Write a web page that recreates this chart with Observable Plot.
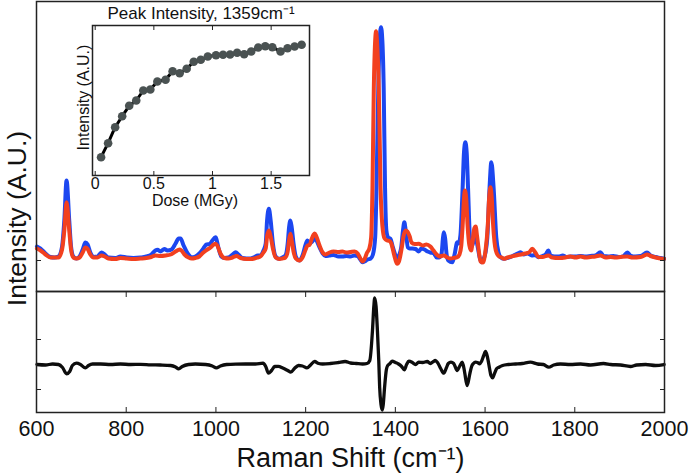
<!DOCTYPE html>
<html><head><meta charset="utf-8">
<script src="https://cdn.jsdelivr.net/npm/d3@7"></script>
<script src="https://cdn.jsdelivr.net/npm/@observablehq/plot@0.6"></script>
<style>
html,body{margin:0;padding:0;background:#fff;}
#chart{position:relative;width:692px;height:475px;overflow:hidden;background:#fff;}
#chart svg{position:absolute;left:0;overflow:visible;background:transparent;}
</style></head><body><div id="chart"></div>
<script>
// Raman shift (cm-1) vs intensity (A.U.), before irradiation (blue) and after (red)
const blueSpectrum = [[601,14],[609,12],[620,7],[631,3.5],[640,3],[649,4],[657,14],[662,40],[667,80],[673,40],[677,14],[682,4],[689,2],[696,4],[703,11],[709,18],[714,16],[720,8],[727,3.5],[736,4],[745,8],[752,6],[760,3],[776,2.5],[787,4],[801,3],[816,2.5],[832,3],[845,4],[856,6],[865,10],[870,10.7],[876,9],[885,11.5],[892,10],[901,11],[910,17],[917,22],[921,22],[928,15],[937,7],[946,3.3],[954,4],[963,7],[972,12],[979,16],[986,16.5],[992,20],[999,23.3],[1006,12],[1012,4],[1019,2.5],[1028,3],[1037,6],[1044,8.3],[1050,6],[1059,2.5],[1068,2],[1077,2],[1086,3.5],[1093,5],[1099,5],[1106,10],[1111,17],[1114,40],[1118,51.7],[1122,40],[1127,17],[1133,4],[1140,1.7],[1148,3],[1155,5],[1160,17],[1163,33],[1166,40],[1169,33],[1173,17],[1178,4],[1186,0],[1193,5],[1200,16],[1204,20],[1209,17],[1215,19],[1220,22],[1224,20],[1231,13],[1238,7],[1244,4.5],[1253,5],[1262,5.5],[1273,4],[1282,4],[1291,4.5],[1300,4],[1309,5],[1316,4.5],[1322,1],[1327,-1.7],[1331,-1],[1338,1],[1345,2],[1350,6],[1355,23],[1358,73],[1362,173],[1365,220],[1368,233.3],[1371,220],[1374,173],[1377,73],[1380,30],[1384,23],[1389,21.7],[1394,14],[1398,8],[1404,2],[1409,6],[1413,13],[1417,30],[1420,38.3],[1423,30],[1428,13],[1432,12],[1438,12],[1445,11.5],[1452,9],[1458,12],[1465,11],[1472,9],[1478,8],[1485,7.5],[1492,3],[1498,3],[1503,7],[1506,22],[1508,28.3],[1511,22],[1514,7],[1518,0],[1527,-1.7],[1532,6],[1538,18.3],[1541,17],[1545,25],[1550,73],[1553,108],[1556,118.3],[1559,108],[1562,73],[1566,25],[1570,14],[1575,20],[1579,23.3],[1583,15],[1588,3],[1592,-1.7],[1597,2],[1601,8],[1605,23],[1610,73],[1614,98.3],[1619,73],[1625,23],[1630,8],[1634,3.5],[1642,1.7],[1650,2.5],[1659,4],[1668,6],[1675,7.5],[1679,8.3],[1686,6],[1695,7],[1704,5],[1712,5.5],[1719,3.3],[1728,4.5],[1735,6],[1741,10],[1746,5],[1755,4],[1764,4],[1773,5],[1782,3.5],[1790,4],[1802,4],[1813,4.5],[1824,4],[1835,4.5],[1846,5],[1857,8.3],[1864,4.5],[1875,4],[1886,4.5],[1898,3.5],[1909,4.5],[1917,8],[1924,5],[1935,4],[1947,4.5],[1961,8],[1969,5],[1980,3.5],[1991,2.5],[1999,1.7]];

const redSpectrum = [[601,12],[609,10],[620,6],[631,3],[640,3],[649,3],[657,11],[662,30],[667,58.3],[673,30],[677,11],[682,3],[689,2],[696,3],[703,8],[709,13],[714,11.5],[720,6],[727,3],[736,3],[745,5],[752,4],[760,2],[776,1.5],[787,2.5],[801,2],[816,1.5],[832,2],[845,2.5],[856,3.5],[865,5],[876,4.5],[888,5],[899,6],[910,9],[919,11],[923,10],[930,6],[939,3],[946,2],[954,2.5],[963,4],[972,8],[981,11],[988,13],[995,16],[999,16.7],[1003,15],[1010,7],[1019,2.5],[1028,2],[1037,3],[1046,4.5],[1055,2.5],[1068,1.5],[1077,1.5],[1086,2],[1093,3],[1099,4],[1106,8],[1111,12],[1114,24],[1118,30],[1122,24],[1127,12],[1133,3],[1142,1.5],[1148,2],[1155,3],[1160,9],[1163,20],[1166,26.7],[1169,20],[1173,9],[1178,2],[1186,0],[1193,3],[1200,11],[1204,15],[1209,15.5],[1213,21],[1218,26],[1220,27],[1224,24],[1231,15],[1238,8],[1244,6],[1253,8],[1262,9],[1273,8.5],[1282,9],[1291,8],[1300,8.5],[1309,9],[1316,7],[1322,2],[1327,-1],[1331,1],[1337,8],[1342,12],[1346,23],[1349,73],[1352,173],[1355,220],[1357,229.3],[1359,220],[1363,173],[1367,73],[1371,35],[1376,22],[1382,20],[1387,19.5],[1391,17],[1396,8],[1400,1],[1404,-3.3],[1408,-1],[1414,12],[1418,24],[1423,30],[1427,29],[1432,24],[1436,18],[1443,16.5],[1452,16.7],[1461,15],[1469,16],[1478,14],[1485,10],[1492,6],[1498,4],[1508,5],[1516,3],[1523,2],[1530,2.5],[1538,3.3],[1543,6],[1547,15],[1550,35],[1553,62],[1555,70],[1558,62],[1561,35],[1565,15],[1569,10],[1572,18],[1576,32],[1579,34],[1582,25],[1586,10],[1590,-1],[1595,-2],[1601,10],[1606,35],[1609,62],[1612,73.3],[1615,62],[1618,35],[1624,10],[1631,4],[1637,3],[1642,1.7],[1650,3],[1659,4],[1668,5],[1679,6],[1690,7],[1699,8.5],[1705,11.7],[1712,8],[1719,3.5],[1728,3.5],[1741,5],[1750,3],[1764,2.5],[1779,3],[1790,4],[1802,3],[1813,4],[1824,3],[1835,3.5],[1846,4],[1857,5],[1869,3],[1880,3.5],[1891,3],[1902,3.5],[1917,4],[1929,3],[1947,3.5],[1961,6],[1969,4.5],[1980,3],[1991,2],[1999,1.5]];

const differenceSpectrum = [[601,0],[620,-0.5],[636,0.5],[649,0],[658,-3],[667,-9.3],[674,-7],[680,-1],[689,1.3],[698,0],[709,-3.4],[716,-1],[725,0.5],[743,0.5],[765,0],[787,0.5],[810,0],[832,0.2],[854,-0.3],[876,-0.5],[899,-1],[910,-2.5],[917,-4.4],[925,-2],[939,0],[954,0.5],[977,0],[992,-1.5],[1001,-3.4],[1010,-1.5],[1024,0],[1044,0.4],[1066,0.5],[1088,0.5],[1105,1.3],[1111,-2],[1117,-8.7],[1124,-6],[1131,-2],[1139,-1.9],[1149,-3.5],[1160,-6],[1167,-7.7],[1175,-4],[1184,-1],[1193,-1.5],[1203,-3.4],[1211,-0.5],[1220,3],[1229,1],[1238,0.5],[1255,1],[1273,2],[1288,3],[1300,1.5],[1313,1],[1327,0.5],[1337,1],[1343,4],[1349,34],[1352,58],[1354,66.7],[1357,58],[1360,34],[1363,4],[1365,-22.7],[1368,-40],[1371,-45.5],[1373,-40],[1376,-22.7],[1380,-5],[1383,-1],[1388,1],[1393,3.3],[1400,2],[1407,0.5],[1414,-2],[1420,-5.3],[1425,0],[1430,3.3],[1438,2],[1445,0],[1452,2.3],[1461,2],[1471,3],[1478,1],[1485,3],[1489,4],[1494,2],[1501,-4],[1508,-8.7],[1514,-3],[1518,1],[1524,2.3],[1530,1],[1538,-6],[1543,-2],[1549,2.3],[1553,-4],[1555,-9.3],[1560,-21],[1566,-9.3],[1570,-2],[1574,1],[1579,2.3],[1583,2],[1588,0.7],[1592,3],[1597,9],[1601,13],[1605,8],[1610,-4],[1613,-11],[1617,-13.3],[1621,-9],[1626,-4],[1631,-2.7],[1639,-1],[1652,0],[1668,0.5],[1683,1],[1701,2.3],[1717,0.5],[1730,0],[1742,-2.7],[1753,-0.5],[1768,0.5],[1790,0],[1813,0.5],[1835,-0.5],[1864,1],[1880,0],[1902,-0.5],[1924,-2],[1938,-0.5],[1958,0],[1980,-1],[1999,0]];

// Inset: peak intensity at 1359 cm-1 vs dose
const doseValues = [0.05,0.11,0.17,0.23,0.29,0.35,0.41,0.47,0.53,0.60,0.66,0.72,0.78,0.84,0.90,0.96,1.03,1.09,1.15,1.21,1.27,1.33,1.39,1.45,1.51,1.58,1.64,1.70,1.76];
const peakValues = [18.3,32.3,48.3,59.3,69.7,75,85,86,94,95.7,104.3,102.3,106.7,113.7,115.7,119,120.3,120.7,121,122.7,121.3,124,128,129.3,128.3,124,127.3,129,130.7];

const shiftTicks = [600, 800, 1000, 1200, 1400, 1600, 1800, 2000];
const doseTicks = [0, 0.5, 1, 1.5];
const upperTicks = [0];
const diffTicks = [-25, 25];

const xLabel = "Raman Shift (cm⁻¹)";
const yLabel = "Intensity (A.U.)";
const insetTitle = "Peak Intensity, 1359cm⁻¹";
const insetXLabel = "Dose (MGy)";

const font = "'Liberation Sans', Arial, Helvetica, sans-serif";
const frameColor = "#222";
const blue = "#1c47f0";
const red = "#f2401f";
const svgStyle = {fontFamily: font, background: "transparent", overflow: "visible", color: "#111"};

const peakData = doseValues.map((d, i) => ({dose: d, intensity: peakValues[i]}));
const chart = document.getElementById("chart");

const upper = Plot.plot({
  width: 692, height: 292,
  marginTop: 1, marginBottom: 1, marginLeft: 36, marginRight: 28,
  style: svgStyle,
  x: {domain: [600, 2000], axis: null},
  y: {domain: [-31, 259], axis: null},
  marks: [
    Plot.line(blueSpectrum, {x: d => d[0], y: d => d[1], stroke: blue, strokeWidth: 4, curve: "monotone-x"}),
    Plot.line(redSpectrum, {x: d => d[0], y: d => d[1], stroke: red, strokeWidth: 4, curve: "monotone-x"}),
    Plot.axisY({anchor: "left", ticks: upperTicks, tickSize: 5, dx: 5, tickFormat: () => "", label: null, stroke: frameColor}),
    Plot.axisY({anchor: "right", ticks: upperTicks, tickSize: 5, dx: -5, tickFormat: () => "", label: null, stroke: frameColor}),
    Plot.frame({stroke: frameColor, strokeWidth: 1.5}),
    Plot.text([yLabel], {text: d => d, frameAnchor: "left", rotate: -90, textAnchor: "middle", lineAnchor: "bottom", dx: -11, dy: 72, fontSize: 26.5, fill: "#111"})
  ]
});
upper.style.top = "0px";
chart.appendChild(upper);

const lower = Plot.plot({
  width: 692, height: 185,
  marginTop: 1, marginBottom: 63, marginLeft: 36, marginRight: 28,
  style: svgStyle,
  x: {domain: [600, 2000], axis: null},
  y: {domain: [-48, 73], axis: null},
  marks: [
    Plot.line(differenceSpectrum, {x: d => d[0], y: d => d[1], stroke: "#0d0d0d", strokeWidth: 3.3, curve: "monotone-x"}),
    Plot.axisY({anchor: "left", ticks: diffTicks, tickSize: 5, dx: 5, tickFormat: () => "", label: null, stroke: frameColor}),
    Plot.axisY({anchor: "right", ticks: diffTicks, tickSize: 5, dx: -5, tickFormat: () => "", label: null, stroke: frameColor}),
    Plot.axisX({anchor: "bottom", ticks: shiftTicks, tickSize: 5, dy: -5, tickFormat: () => "", label: null, stroke: frameColor}),
    Plot.axisX({anchor: "top", ticks: shiftTicks, tickSize: 5, dy: 5, tickFormat: () => "", label: null, stroke: frameColor}),
    Plot.axisX({anchor: "bottom", ticks: shiftTicks, tickSize: 0, tickPadding: 8.5, fontSize: 21.5, tickFormat: d => String(d), label: null, fill: "#111"}),
    Plot.frame({stroke: frameColor, strokeWidth: 1.5}),
    Plot.text([xLabel], {text: d => d, frameAnchor: "bottom", textAnchor: "middle", lineAnchor: "bottom", dy: 54, fontSize: 27, fill: "#111"})
  ]
});
lower.style.top = "290px";
chart.appendChild(lower);

const inset = Plot.plot({
  width: 330, height: 215,
  marginTop: 25, marginBottom: 40, marginLeft: 92, marginRight: 21,
  style: svgStyle,
  x: {domain: [-0.023, 1.827], axis: null},
  y: {domain: [0, 150], axis: null},
  marks: [
    Plot.frame({stroke: frameColor, strokeWidth: 1.5}),
    Plot.axisX({anchor: "bottom", ticks: doseTicks, tickSize: 4, dy: -4, tickFormat: () => "", label: null, stroke: frameColor}),
    Plot.axisX({anchor: "top", ticks: doseTicks, tickSize: 4, dy: 4, tickFormat: () => "", label: null, stroke: frameColor}),
    Plot.axisX({anchor: "bottom", ticks: doseTicks, tickSize: 0, tickPadding: 2, fontSize: 16, tickFormat: d => String(d), label: null, fill: "#111"}),
    Plot.line(peakData, {x: "dose", y: "intensity", stroke: "#000", strokeWidth: 3}),
    Plot.dot(peakData, {x: "dose", y: "intensity", r: 4.3, fill: "#4a5252", stroke: "none"}),
    Plot.text([insetTitle], {text: d => d, frameAnchor: "top", textAnchor: "middle", lineAnchor: "bottom", dy: -6.5, fontSize: 17, fill: "#111"}),
    Plot.text([insetXLabel], {text: d => d, frameAnchor: "bottom", textAnchor: "middle", lineAnchor: "bottom", dx: -6, dy: 30.5, fontSize: 16, fill: "#111"}),
    Plot.text([yLabel], {text: d => d, frameAnchor: "left", rotate: -90, textAnchor: "middle", lineAnchor: "bottom", dx: -4, dy: -3, fontSize: 16, fill: "#111"})
  ]
});
inset.style.top = "0px";
chart.appendChild(inset);
</script>
</body></html>
